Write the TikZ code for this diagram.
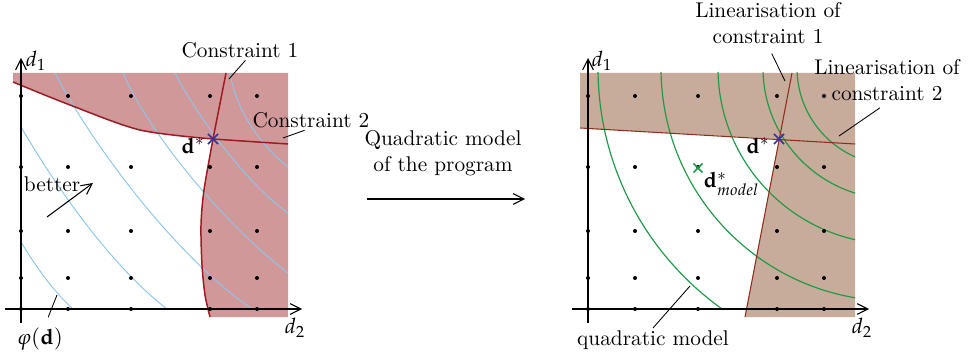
\documentclass[tikz,border=0pt]{standalone}
\usepackage{amsmath}
\usepackage{mathpazo}
\usepackage{xcolor}
\usepackage{tikz}
\usetikzlibrary{arrows.meta,shapes.misc}
\definecolor{infeasred}{HTML}{D1989A}
\definecolor{infeastan}{HTML}{C7AB9B}
\definecolor{constrred}{HTML}{9E1A22}
\definecolor{linbrown}{HTML}{8E2E1C}
\definecolor{contourblue}{HTML}{8DC6EA}
\definecolor{modelgreen}{HTML}{1F9A48}
\definecolor{optblue}{HTML}{33339A}
\tikzset{
  axis/.style={-{Straight Barb[length=5pt,width=5pt]},line width=0.5pt},
  arrow/.style={-{Straight Barb[length=5pt,width=5pt]},line width=0.5pt},
  pointer/.style={line width=0.4pt},
  textlbl/.style={inner sep=1pt,align=center},
  optmark/.style={cross out,draw=optblue,line width=0.8pt,
    minimum size=4pt,inner sep=0pt}
}

\begin{document}
\begin{tikzpicture}[x=0.0165cm,y=-0.0165cm,
  contour/.style={draw=contourblue,line width=0.45pt},
  constraint/.style={draw=constrred,line width=0.7pt},
  linear/.style={draw=linbrown,line width=0.5pt},
  modelarc/.style={draw=modelgreen,line width=0.55pt},
  modelmark/.style={optmark,draw=modelgreen,minimum size=3.5pt}
]
  \useasboundingbox (0,0) rectangle (971,356);

  % original program
  \fill[infeasred] (288,73) -- (13,73) -- (13,82)
    -- plot[smooth] coordinates {(13,82) (70,105) (140,130) (213,139)}
    -- plot[smooth] coordinates {(213,139) (204,190) (201,225) (202,265) (205,295) (210,317)}
    -- (288,317) -- cycle;
  \draw[contour] (21,242) .. controls (35,265) and (52,290) .. (73,309);
  \draw[contour] (21,127) .. controls (55,185) and (110,265) .. (167,309);
  \draw[contour] (55,73) .. controls (95,150) and (180,260) .. (252,309);
  \draw[contour] (123,73) .. controls (150,135) and (225,225) .. (288,273);
  \draw[contour] (175,73) .. controls (198,118) and (248,185) .. (288,213);
  \draw[contour] (230,73) .. controls (236,110) and (260,145) .. (288,167);
  \draw[constraint] plot[smooth] coordinates {(13,82) (70,105) (140,130) (213,139)}
    -- plot[smooth] coordinates {(213,139) (250,141.5) (288,144)};
  \draw[constraint] (226,73) -- (213,139)
    -- plot[smooth] coordinates {(213,139) (204,190) (201,225) (202,265) (205,295) (210,317)};

  % quadratic model
  \fill[infeastan] (580,73) -- (855,73) -- (855,317) -- (745,317)
    -- (779,139) -- (580,128) -- cycle;
  \begin{scope}
    \clip (580,73) rectangle (855,309);
    \foreach \r in {296,233,176,131,97}
      \draw[modelarc] (894,68) circle (\r);
  \end{scope}
  \draw[linear] (580,128) -- (855,144);
  \draw[linear] (792,73) -- (745,317);

  % grid points and axes
  \foreach \off in {0,567} {
    \foreach \gx in {21,68,131,210,257}
      \foreach \gy in {96,167,231,278,309}
        \fill (\gx+\off,\gy) circle (2);
    \draw[axis] (5+\off,309) -- (302+\off,309);
    \draw[axis] (21+\off,323) -- (21+\off,58);
  }

  \node[textlbl] (d1L) at (36,61) {$d_1$};
  \node[textlbl] (d2L) at (295,328) {$d_2$};
  \node[textlbl] (d1R) at (602,61) {$d_1$};
  \node[textlbl] (d2R) at (862,328) {$d_2$};

  % optima
  \node[optmark] (optL) at (213,139) {};
  \node[textlbl] (optLlbl) at (193,146) {$\mathbf{d}^*$};
  \node[optmark] (optR) at (779,139) {};
  \node[textlbl] (optRlbl) at (758,146) {$\mathbf{d}^*$};
  \node[modelmark] (optM) at (698,168) {};
  \node[textlbl,anchor=west] (optMlbl) at (701,184) {$\mathbf{d}^*_{model}$};

  % labels with pointers
  \node[textlbl] (c1lbl) at (240,50) {Constraint 1};
  \coordinate (c1pt) at (229,79);
  \draw[pointer] (c1lbl.-62) -- (c1pt);
  \node[textlbl] (c2lbl) at (311,120) {Constraint 2};
  \coordinate (c2pt) at (283,138);
  \draw[pointer] (c2lbl.-122) -- (c2pt);
  \node[textlbl] (philbl) at (40,339) {$\varphi(\mathbf{d})$};
  \coordinate (phipt) at (57,295);
  \draw[pointer,shorten <=4pt] (philbl.70) -- (phipt);
  \node[textlbl] (betterlbl) at (52,184) {better};
  \coordinate (betterfrom) at (47,217);
  \coordinate (betterto) at (93,183);
  \draw[arrow] (betterfrom) -- (betterto);

  \node[textlbl] (lin1lbl) at (768,23) {Linearisation of\\constraint 1};
  \coordinate (lin1pt) at (785,81);
  \draw[pointer,shorten <=4pt] (lin1lbl.south) -- (lin1pt);
  \node[textlbl] (lin2lbl) at (887,80) {Linearisation of\\constraint 2};
  \coordinate (lin2pt) at (839,136);
  \draw[pointer,shorten <=4pt] (lin2lbl.south) -- (lin2pt);
  \node[textlbl] (qmodlbl) at (653,340) {quadratic model};
  \coordinate (qmodpt) at (690,286);
  \draw[pointer] (qmodlbl.north) -- (qmodpt);

  % step between the two pictures
  \node[textlbl] (steplbl) at (443,153) {Quadratic model\\of the program};
  \coordinate (stepfrom) at (367,199);
  \coordinate (stepto) at (525,199);
  \draw[arrow] (stepfrom) -- (stepto);
\end{tikzpicture}
\end{document}
